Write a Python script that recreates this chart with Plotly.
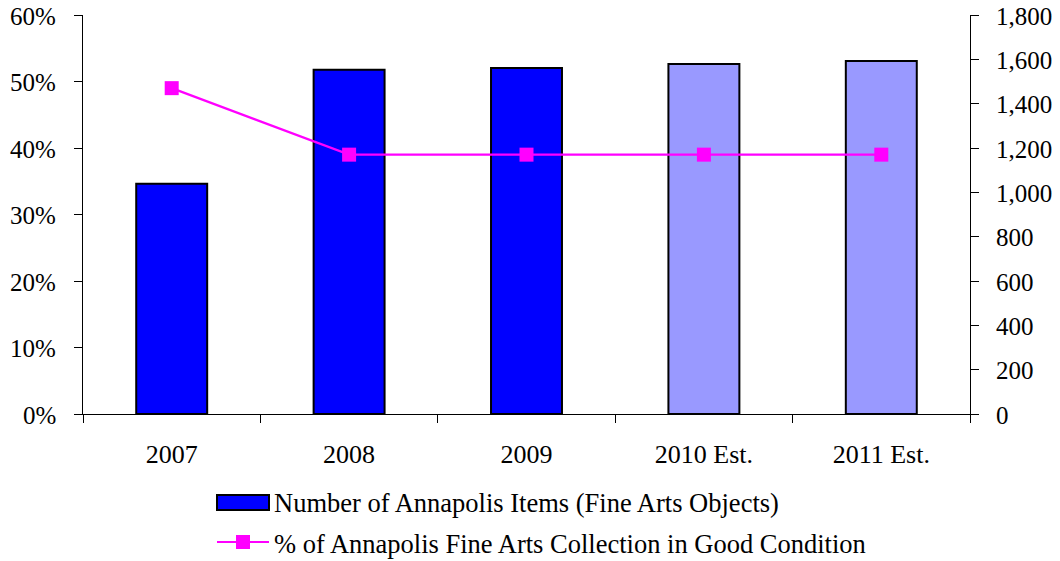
import plotly.graph_objects as go

categories = ["2007", "2008", "2009", "2010 Est.", "2011 Est."]
items = [1039, 1553, 1561, 1579, 1592]
pct_good = [0.49, 0.39, 0.39, 0.39, 0.39]
bar_colors = ["#0000FF", "#0000FF", "#0000FF", "#9999FF", "#9999FF"]
bar_name = "Number of Annapolis Items (Fine Arts Objects)"
line_name = "% of Annapolis Fine Arts Collection in Good Condition"
pct_ticks = [0, 0.1, 0.2, 0.3, 0.4, 0.5, 0.6]
item_ticks = [0, 200, 400, 600, 800, 1000, 1200, 1400, 1600, 1800]

FONT = "Liberation Serif"

OFF = 8  # default page body margin
W, H = 1060 - OFF, 561 - OFF
L, R, T, B = 83 - OFF, 970 - OFF, 15 - OFF, 414 - OFF
PW, PH = R - L, B - T


def px(x):
    return (x - OFF - L) / PW


def py(y):
    return (B - (y - OFF)) / PH


fig = go.Figure()
fig.add_trace(go.Bar(
    x=categories, y=items, name=bar_name, yaxis="y",
    marker=dict(color=bar_colors, line=dict(color="#000000", width=2)),
    width=0.4, showlegend=False,
))
fig.add_trace(go.Scatter(
    x=categories, y=pct_good, name=line_name, yaxis="y2",
    mode="lines+markers",
    line=dict(color="#FF00FF", width=2.2),
    marker=dict(symbol="square", size=14, color="#FF00FF"),
    showlegend=False,
))

# y tick labels as text placed at the axis values
for v in pct_ticks:
    fig.add_annotation(xref="paper", yref="y2", x=px(58), y=v, yshift=-1,
                       text=f"{v:.0%}", showarrow=False, xanchor="right", yanchor="middle",
                       font=dict(family=FONT, size=25, color="#000000"))
for v in item_ticks:
    fig.add_annotation(xref="paper", yref="y", x=px(994), y=v, yshift=-1,
                       text=f"{v:,}", showarrow=False, xanchor="left", yanchor="middle",
                       font=dict(family=FONT, size=25, color="#000000"))

# custom legend
fig.add_shape(type="rect", xref="paper", yref="paper",
              x0=px(217), x1=px(269), y0=py(510), y1=py(495),
              fillcolor="#0000FF", line=dict(color="#000000", width=2))
fig.add_shape(type="line", xref="paper", yref="paper",
              x0=px(217), x1=px(269), y0=py(542), y1=py(542),
              line=dict(color="#FF00FF", width=2.2))
fig.add_shape(type="rect", xref="paper", yref="paper",
              x0=px(236), x1=px(250), y0=py(549), y1=py(535),
              fillcolor="#FF00FF", line=dict(color="#FF00FF", width=0))
fig.add_annotation(xref="paper", yref="paper", x=px(272), y=py(503),
                   text=bar_name, showarrow=False, xanchor="left", yanchor="middle",
                   font=dict(family=FONT, size=26.5, color="#000000"))
fig.add_annotation(xref="paper", yref="paper", x=px(272), y=py(544),
                   text=line_name, showarrow=False, xanchor="left", yanchor="middle",
                   font=dict(family=FONT, size=26.5, color="#000000"))

fig.update_layout(
    width=W, height=H,
    margin=dict(l=L, r=W - R, t=T, b=H - B, autoexpand=False),
    paper_bgcolor="white", plot_bgcolor="white",
    font=dict(family=FONT, size=26, color="#000000"),
    showlegend=False,
    xaxis=dict(
        type="category", tickson="boundaries", ticks="outside", ticklen=8,
        tickcolor="#000000", showline=True, linecolor="#000000", linewidth=1,
        showgrid=False, ticklabelstandoff=17, automargin=False,
        tickfont=dict(size=26),
    ),
    yaxis=dict(
        side="right", range=[0, 1800], tickvals=item_ticks, showticklabels=False,
        ticks="outside", ticklen=8, tickcolor="#000000",
        showline=True, linecolor="#000000", linewidth=1,
        showgrid=False, zeroline=False, automargin=False,
    ),
    yaxis2=dict(
        side="left", overlaying="y", range=[0, 0.6], tickvals=pct_ticks, showticklabels=False,
        ticks="outside", ticklen=8, tickcolor="#000000",
        showline=True, linecolor="#000000", linewidth=1,
        showgrid=False, zeroline=False, automargin=False,
    ),
)

fig.write_html("out.html")
